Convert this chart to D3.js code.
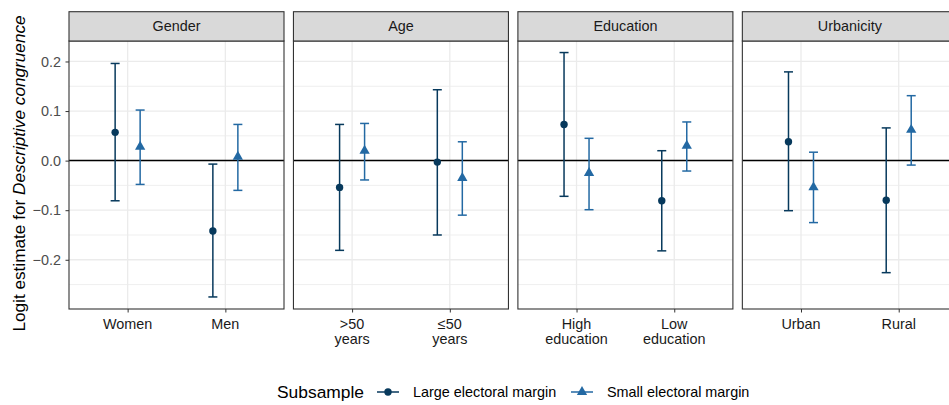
<!DOCTYPE html>
<html>
<head>
<meta charset="utf-8">
<script src="https://cdn.jsdelivr.net/npm/d3@7"></script>
<style>
  body { margin: 0; background: #fff; }
  svg { display: block; font-family: "Liberation Sans", Arial, sans-serif; }
</style>
</head>
<body>
<svg id="chart" width="949" height="405"></svg>
<script>
const panels = ["Gender", "Age", "Education", "Urbanicity"];
const categories = [
  ["Women", "Men"],
  [">50\nyears", "≤50\nyears"],
  ["High\neducation", "Low\neducation"],
  ["Urban", "Rural"]
];
const seriesNames = ["Large electoral margin", "Small electoral margin"];
// values in order: panel-major, category-minor
const largeEst   = [0.057, -0.142, -0.054, -0.003, 0.073, -0.081, 0.038, -0.080];
const largeLow   = [-0.081, -0.275, -0.181, -0.150, -0.072, -0.182, -0.101, -0.226];
const largeHigh  = [0.196, -0.007, 0.073, 0.143, 0.218, 0.020, 0.179, 0.066];
const smallEst   = [0.028, 0.008, 0.020, -0.035, -0.025, 0.030, -0.054, 0.062];
const smallLow   = [-0.048, -0.060, -0.039, -0.110, -0.099, -0.021, -0.125, -0.009];
const smallHigh  = [0.102, 0.073, 0.075, 0.038, 0.045, 0.078, 0.017, 0.131];
const yTicks = [-0.2, -0.1, 0.0, 0.1, 0.2];
const yMinor = [-0.25, -0.15, -0.05, 0.05, 0.15];

const colors = ["#07395c", "#2369a3"];
const svg = d3.select("#chart");

const panelLeft = 69, panelW = 215, panelGap = 9.45;
const stripTop = 11.7, stripBottom = 41, plotBottom = 309;
const fs = 14.4;

const y = d3.scaleLinear().domain([-0.2993, 0.2413]).range([plotBottom, stripBottom]);

// Y axis ticks & labels
const yAxisG = svg.append("g").attr("transform", `translate(${panelLeft},0)`)
  .call(d3.axisLeft(y).tickValues(yTicks).tickSize(3.5).tickPadding(4.5)
    .tickFormat(d => d === 0 ? "0.0" : d3.format(".1f")(d)));
yAxisG.select(".domain").remove();
yAxisG.selectAll("line").attr("stroke", "#333").attr("stroke-width", 1);
yAxisG.selectAll("text").attr("fill", "#4d4d4d").attr("font-size", fs)
  .attr("font-family", "Liberation Sans, Arial, sans-serif");

// Y title
const yt = svg.append("text")
  .attr("transform", `translate(25,${(stripBottom + plotBottom) / 2 - 1.5}) rotate(-90)`)
  .attr("text-anchor", "middle").attr("font-size", 17.2).attr("fill", "#000");
yt.append("tspan").text("Logit estimate for ");
yt.append("tspan").attr("font-style", "italic").text("Descriptive congruence");

panels.forEach((p, pi) => {
  const x0 = panelLeft + pi * (panelW + panelGap);
  const g = svg.append("g").attr("transform", `translate(${x0},0)`);
  const cats = categories[pi];
  const x = d3.scalePoint().domain(cats).range([0, panelW]).padding(0.6);
  const off = 12.5;

  g.append("rect").attr("x", 0).attr("y", stripBottom).attr("width", panelW)
    .attr("height", plotBottom - stripBottom).attr("fill", "#fff");
  g.selectAll(".ymin").data(yMinor).join("line")
    .attr("x1", 0).attr("x2", panelW).attr("y1", d => y(d)).attr("y2", d => y(d))
    .attr("stroke", "#ebebeb").attr("stroke-width", 0.8);
  g.selectAll(".ymaj").data(yTicks).join("line")
    .attr("x1", 0).attr("x2", panelW).attr("y1", d => y(d)).attr("y2", d => y(d))
    .attr("stroke", "#ebebeb").attr("stroke-width", 1.3);
  g.selectAll(".xmaj").data(cats).join("line")
    .attr("x1", d => x(d)).attr("x2", d => x(d)).attr("y1", stripBottom).attr("y2", plotBottom)
    .attr("stroke", "#ebebeb").attr("stroke-width", 1.3);
  g.append("line").attr("x1", 0).attr("x2", panelW).attr("y1", y(0)).attr("y2", y(0))
    .attr("stroke", "#000").attr("stroke-width", 1.5);

  const series = [
    { est: largeEst, lo: largeLow, hi: largeHigh, dx: -off, shape: "circle" },
    { est: smallEst, lo: smallLow, hi: smallHigh, dx: off, shape: "triangle" }
  ];
  series.forEach((s, si) => {
    cats.forEach((c, ci) => {
      const idx = pi * 2 + ci;
      const cx = x(c) + s.dx;
      const col = colors[si];
      g.append("line").attr("x1", cx).attr("x2", cx).attr("y1", y(s.lo[idx])).attr("y2", y(s.hi[idx]))
        .attr("stroke", col).attr("stroke-width", 1.5);
      [s.lo[idx], s.hi[idx]].forEach(v => {
        g.append("line").attr("x1", cx - 4.5).attr("x2", cx + 4.5).attr("y1", y(v)).attr("y2", y(v))
          .attr("stroke", col).attr("stroke-width", 1.5);
      });
      if (s.shape === "circle") {
        g.append("circle").attr("cx", cx).attr("cy", y(s.est[idx])).attr("r", 3.7).attr("fill", col);
      } else {
        g.append("path").attr("d", d3.symbol(d3.symbolTriangle, 46)())
          .attr("transform", `translate(${cx},${y(s.est[idx])})`).attr("fill", col);
      }
    });
  });

  g.append("rect").attr("x", 0).attr("y", stripBottom).attr("width", panelW)
    .attr("height", plotBottom - stripBottom).attr("fill", "none").attr("stroke", "#333").attr("stroke-width", 1.1);
  g.append("rect").attr("x", 0).attr("y", stripTop).attr("width", panelW)
    .attr("height", stripBottom - stripTop).attr("fill", "#d9d9d9").attr("stroke", "#333").attr("stroke-width", 1.1);
  g.append("text").attr("x", panelW / 2).attr("y", (stripTop + stripBottom) / 2 + 5)
    .attr("text-anchor", "middle").attr("font-size", fs).attr("fill", "#1a1a1a").text(p);

  const xa = g.append("g").attr("transform", `translate(0,${plotBottom})`)
    .call(d3.axisBottom(x).tickSize(3.5).tickFormat(""));
  xa.select(".domain").remove();
  xa.selectAll("line").attr("stroke", "#333").attr("stroke-width", 1);
  cats.forEach(c => {
    const t = g.append("text").attr("text-anchor", "middle").attr("font-size", fs).attr("fill", "#1a1a1a");
    c.split("\n").forEach((line, li) => {
      t.append("tspan").attr("x", x(c)).attr("y", plotBottom + 20 + li * 14.5).text(line);
    });
  });
});

// Legend
const lg = svg.append("g");
const ly = 392;
lg.append("text").attr("x", 277).attr("y", ly + 6).attr("font-size", 17.4).attr("fill", "#000").text("Subsample");
const legendX = [377, 571];
seriesNames.forEach((n, i) => {
  const lx = legendX[i];
  lg.append("line").attr("x1", lx).attr("x2", lx + 22).attr("y1", ly).attr("y2", ly)
    .attr("stroke", colors[i]).attr("stroke-width", 1.5);
  if (i === 0) {
    lg.append("circle").attr("cx", lx + 11).attr("cy", ly).attr("r", 3.7).attr("fill", colors[i]);
  } else {
    lg.append("path").attr("d", d3.symbol(d3.symbolTriangle, 46)())
      .attr("transform", `translate(${lx + 11},${ly})`).attr("fill", colors[i]);
  }
  lg.append("text").attr("x", lx + 36).attr("y", ly + 5).attr("font-size", fs).attr("fill", "#000").text(n);
});
</script>
</body>
</html>
